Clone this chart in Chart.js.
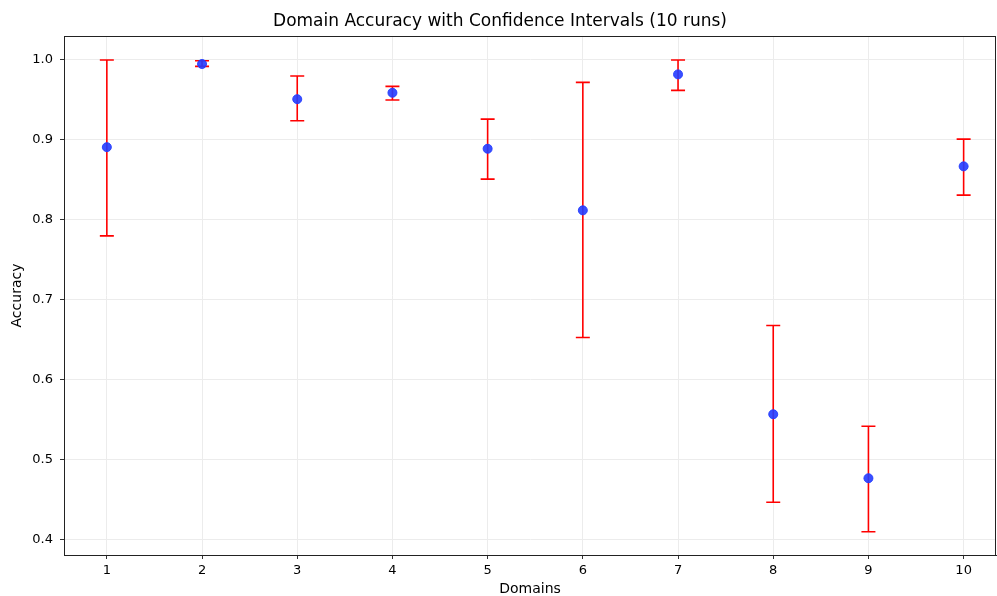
<!DOCTYPE html>
<html>
<head>
<meta charset="utf-8">
<script src="https://cdn.jsdelivr.net/npm/chart.js@4/dist/chart.umd.min.js"></script>
<style>
  html, body { margin: 0; padding: 0; background: #fff; }
  #wrap { width: 997px; height: 596px; position: relative; }
</style>
</head>
<body>
<div id="wrap"><canvas id="errChart"></canvas></div>
<script>
// values
const domains = [1, 2, 3, 4, 5, 6, 7, 8, 9, 10];
const accuracy = [0.891, 0.995, 0.951, 0.959, 0.889, 0.812, 0.982, 0.557, 0.477, 0.867];
const ciLow = [0.780, 0.992, 0.924, 0.950, 0.851, 0.653, 0.962, 0.447, 0.410, 0.831];
const ciHigh = [1.000, 0.999, 0.980, 0.967, 0.926, 0.972, 1.000, 0.668, 0.542, 0.901];
const yTicks = [0.4, 0.5, 0.6, 0.7, 0.8, 0.9, 1.0];

const FONT = 'DejaVu Sans';

// draws the red error bars + the frame round the axes
const errorBars = {
  id: 'errorBars',
  beforeDatasetsDraw(chart) {
    const ctx = chart.ctx;
    const xs = chart.scales.x, ys = chart.scales.y;
    ctx.save();
    ctx.strokeStyle = '#ff0000';
    ctx.lineWidth = 1.6;
    for (let i = 0; i < domains.length; i++) {
      const px = xs.getPixelForValue(domains[i]);
      const lo = ys.getPixelForValue(ciLow[i]);
      const hi = ys.getPixelForValue(ciHigh[i]);
      ctx.beginPath();
      ctx.moveTo(px, lo); ctx.lineTo(px, hi);
      ctx.moveTo(px - 7, lo); ctx.lineTo(px + 7, lo);
      ctx.moveTo(px - 7, hi); ctx.lineTo(px + 7, hi);
      ctx.stroke();
    }
    ctx.restore();
  },
  afterDraw(chart) {
    const a = chart.chartArea, ctx = chart.ctx;
    ctx.save();
    ctx.strokeStyle = '#222';
    ctx.lineWidth = 1;
    ctx.strokeRect(a.left + 0.5, a.top + 0.5, a.right - a.left - 1, a.bottom - a.top);
    ctx.restore();
  }
};

new Chart(document.getElementById('errChart'), {
  type: 'scatter',
  data: {
    datasets: [{
      label: 'Accuracy',
      data: domains.map((d, i) => ({ x: d, y: accuracy[i] })),
      backgroundColor: 'rgba(35,60,255,0.9)',
      borderColor: 'rgba(35,60,255,0.9)',
      pointRadius: 4.5,
      pointHoverRadius: 4.5
    }]
  },
  options: {
    responsive: true,
    maintainAspectRatio: false,
    animation: false,
    layout: { autoPadding: false, padding: { left: 4, right: 1, top: 0, bottom: 0 } },
    plugins: {
      legend: { display: false },
      tooltip: { enabled: false },
      title: {
        display: true,
        text: 'Domain Accuracy with Confidence Intervals (10 runs)',
        color: '#000',
        font: { family: FONT, size: 17, weight: 'normal' },
        padding: { top: 11, bottom: 4.6 }
      }
    },
    scales: {
      x: {
        type: 'linear',
        min: 0.55,
        max: 10.34,
        afterBuildTicks: s => { s.ticks = domains.map(v => ({ value: v })); },
        afterFit: s => { s.height = 41; s.paddingLeft = 0; s.paddingRight = 0; },
        ticks: { color: '#000', font: { family: FONT, size: 13 }, padding: 4, maxRotation: 0 },
        grid: { color: '#ececec', tickColor: '#333', tickLength: 4 },
        border: { color: '#222' },
        title: { display: true, text: 'Domains', color: '#000', font: { family: FONT, size: 14, lineHeight: 1 }, padding: { top: 0, bottom: 0 } }
      },
      y: {
        min: 0.381,
        max: 1.03,
        afterBuildTicks: s => { s.ticks = yTicks.map(v => ({ value: v })); },
        afterFit: s => { s.width = 60; s.paddingTop = 0; s.paddingBottom = 0; },
        ticks: { color: '#000', font: { family: FONT, size: 13 }, padding: 7, callback: v => v.toFixed(1) },
        grid: { color: '#ececec', tickColor: '#333', tickLength: 4 },
        border: { color: '#222' },
        title: { display: true, text: 'Accuracy', color: '#000', font: { family: FONT, size: 14, lineHeight: 1 }, padding: { top: 6, bottom: 0 } }
      }
    }
  },
  plugins: [errorBars]
});
</script>
</body>
</html>
